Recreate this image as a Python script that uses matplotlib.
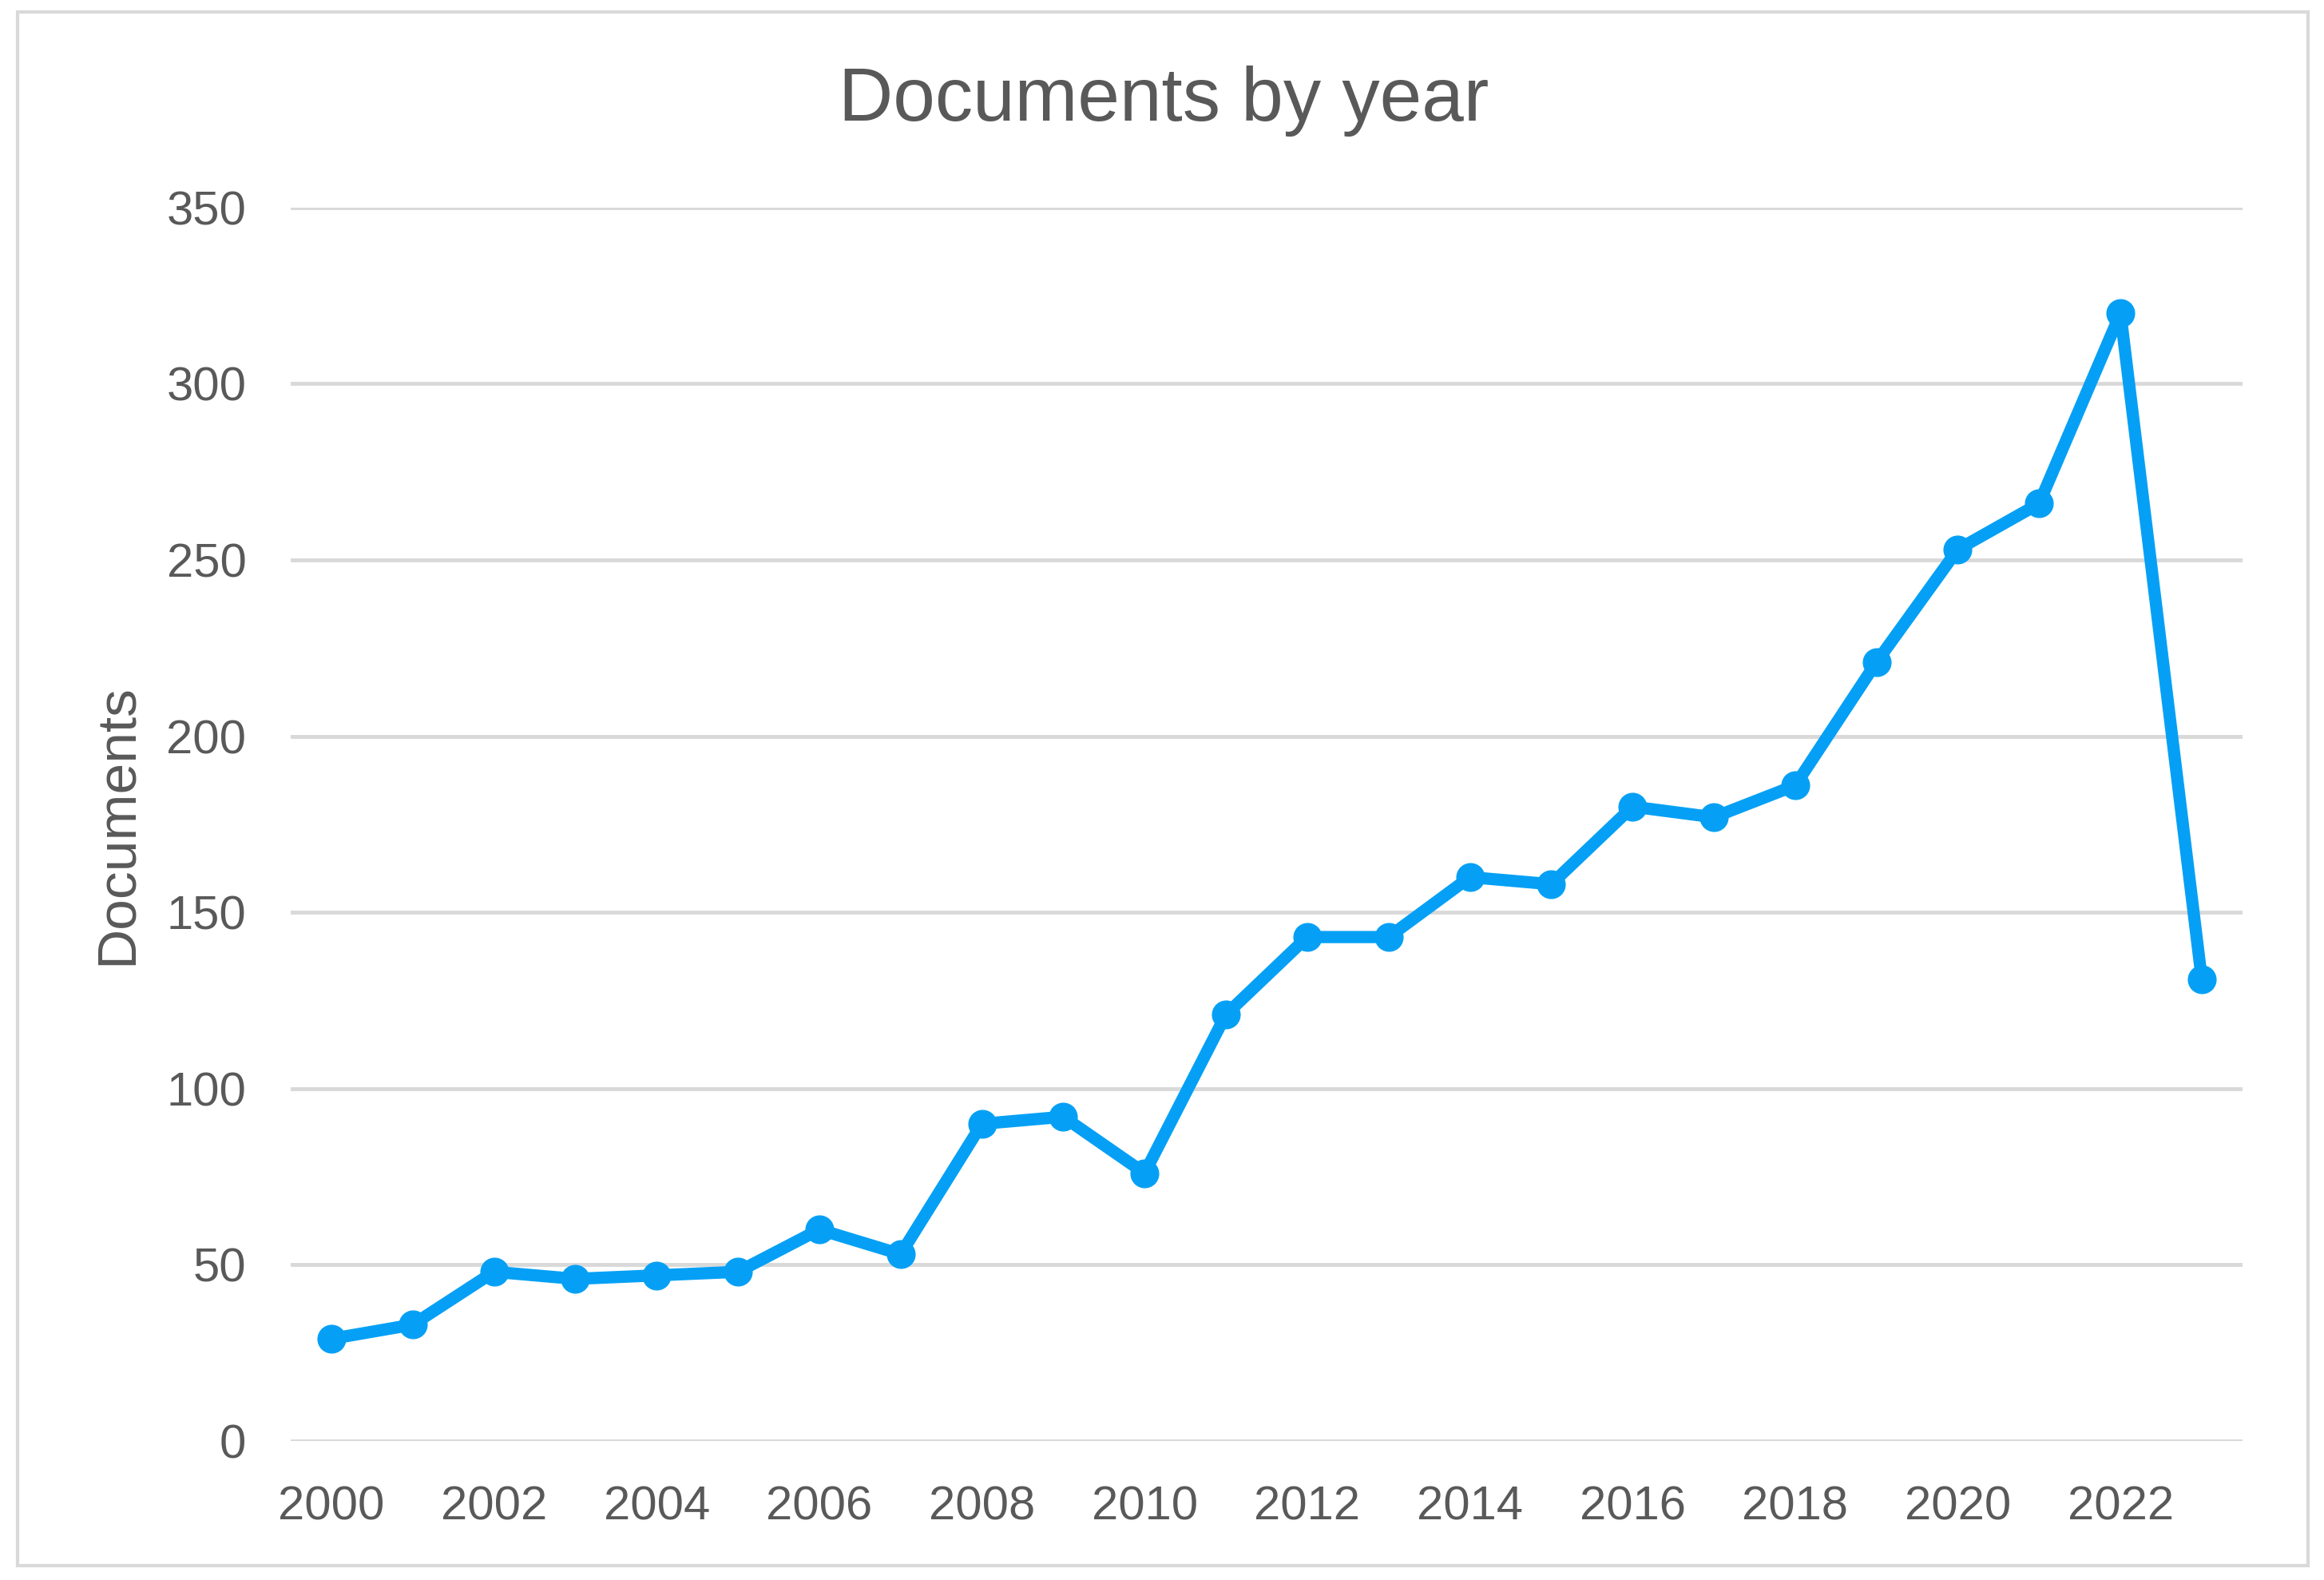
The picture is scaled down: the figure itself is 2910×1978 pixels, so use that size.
import matplotlib
matplotlib.use('Agg')
import matplotlib.pyplot as plt
from matplotlib.patches import Rectangle

plt.rcParams['font.family'] = ['Liberation Sans', 'DejaVu Sans']

# Data
years = list(range(2000, 2024))
documents = [29, 33, 48, 46, 47, 48, 60, 53, 90, 92, 76, 121,
             143, 143, 160, 158, 180, 177, 186, 221, 253, 266, 320, 131]
yticks = [0, 50, 100, 150, 200, 250, 300, 350]
xticks = list(range(2000, 2023, 2))

text_color = '#595959'
line_color = '#05A0F5'
grid_color = '#D9D9D9'

fig = plt.figure(figsize=(29.10, 19.78), dpi=100)
ax = fig.add_axes([0.1251, 0.0880, 0.8398, 0.7806])

ax.plot(years, documents, color=line_color, linewidth=11,
        marker='o', markersize=25, zorder=3)

ax.set_xlim(1999.5, 2023.5)
ax.set_ylim(0, 350)
ax.set_xticks(xticks)
ax.set_yticks(yticks)
ax.tick_params(axis='both', length=0, labelsize=43, labelcolor=text_color)
ax.tick_params(axis='x', pad=40)
ax.tick_params(axis='y', pad=40)
ax.grid(axis='y', color=grid_color, linewidth=3.5)
ax.set_axisbelow(True)
for s in ax.spines.values():
    s.set_visible(False)

ax.set_ylabel('Documents', fontsize=50, color=text_color)
ax.yaxis.set_label_coords(-0.076, 0.5)

fig.text(0.5007, 0.936, 'Documents by year', fontsize=68,
         color=text_color, ha='center', va='center')

# light border round the chart
fig.patches.append(Rectangle((22 / 2910, 1 - 1960 / 1978), 2868 / 2910, 1945 / 1978,
                             transform=fig.transFigure, fill=False,
                             edgecolor='#D9D9D9', linewidth=3))

fig.savefig('out.png', dpi=100, facecolor='white')
